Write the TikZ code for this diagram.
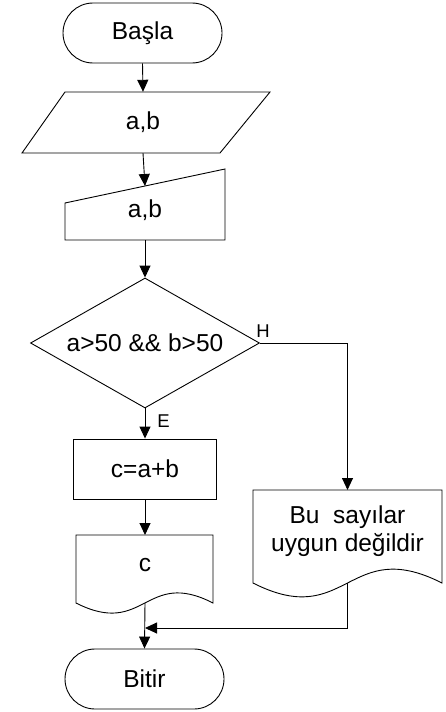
\documentclass[tikz,border=0pt]{standalone}
\usepackage{fontspec}
\setmainfont{Liberation Sans}
\usepackage{tikz}
\usetikzlibrary{arrows.meta,shapes.misc,shapes.geometric}

\tikzset{
  kenar/.style={draw, line width=0.9pt},
  akis/.style={kenar, -{Triangle[length=12pt,width=11pt]}},
  terminal/.style={kenar, rounded rectangle, minimum width=159pt, minimum height=60pt, inner sep=0pt},
  islem/.style={kenar, rectangle, minimum width=143pt, minimum height=60pt, inner sep=0pt},
  karar/.style={kenar, diamond, aspect=1.76, minimum width=229pt, minimum height=130pt, inner sep=0pt},
  etiket/.style={font=\fontsize{18.5}{22}\selectfont, inner sep=0pt},
}

\begin{document}
\begin{tikzpicture}[x=1pt, y=-1pt, font=\fontsize{24.5}{28}\selectfont]
  \useasboundingbox (0,0) rectangle (446,712);
  % baslangic
  \node[terminal] (basla) at (142.5,33) {Başla};
  % veri girisi (paralelkenar)
  \draw[kenar] (65,92) -- (270,92) -- (220,153) -- (22,153) -- cycle;
  \node[minimum height=61pt, inner sep=0pt] (oku) at (143,122.5) {a,b};
  % klavyeden giris
  \draw[kenar] (65,203) -- (225,169) -- (225,240) -- (65,240) -- cycle;
  \node (klavye) at (145,210) {a,b};
  \coordinate (klavye-ust) at (145,186);
  \coordinate (klavye-alt) at (145,240);
  % karar
  \node[karar] (kosul) at (145,343) {a>50 \&\& b>50};
  \node[etiket] (hayir) at (263,331) {H};
  \node[etiket] (evet) at (163.5,421) {E};
  % islem
  \node[islem] (hesap) at (145,469) {c=a+b};
  % cikti belgesi c
  \draw[kenar] (76,535) -- (213,535) -- (213,603)
    .. controls (145,568) and (145,638) .. (76,603) -- cycle;
  \node (yazdir) at (145,565) {c};
  \coordinate (yazdir-ust) at (145,535);
  \coordinate (yazdir-alt) at (145,603);
  % uyari belgesi
  \draw[kenar] (253,490) -- (442,490) -- (442,583)
    .. controls (347.5,535) and (347.5,631) .. (253,583) -- cycle;
  \node[align=center] (uyari) at (347.5,531) {Bu\ \ sayılar\\uygun değildir};
  \coordinate (uyari-ust) at (347.5,490);
  \coordinate (uyari-alt) at (347.5,583);
  % bitis
  \node[terminal] (bitir) at (144.5,679) {Bitir};
  \coordinate (birles) at (145,628);
  % baglantilar
  \draw[akis] (basla.south) -- (oku.north);
  \draw[akis] (oku.south) -- (klavye-ust);
  \draw[akis] (klavye-alt) -- (kosul.north);
  \draw[akis] (kosul.south) -- (hesap.north);
  \draw[akis] (kosul.east) -| (uyari-ust);
  \draw[akis] (hesap.south) -- (yazdir-ust);
  \draw[akis] (yazdir-alt) -- (bitir.north);
  \draw[akis] (uyari-alt) |- (birles);
\end{tikzpicture}
\end{document}
